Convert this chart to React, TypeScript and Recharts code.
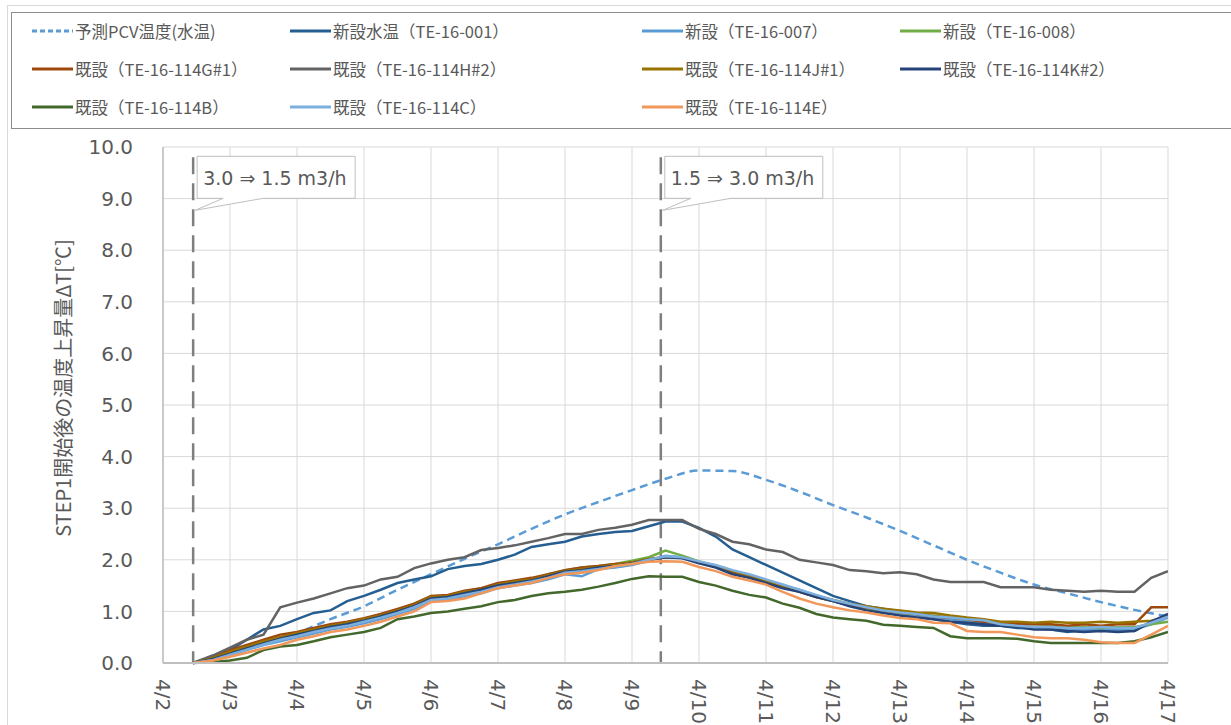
import React from 'react';
import { LineChart, Line, XAxis, YAxis, CartesianGrid, ReferenceLine } from 'recharts';

// days after 4/2 00:00
const days = [
  0.45, 0.75,
  1, 1.25, 1.5, 1.75,
  2, 2.25, 2.5, 2.75,
  3, 3.25, 3.5, 3.75,
  4, 4.25, 4.5, 4.75,
  5, 5.25, 5.5, 5.75,
  6, 6.25, 6.5, 6.75,
  7, 7.25, 7.5, 7.75,
  8, 8.25, 8.5, 8.75,
  9, 9.25, 9.5, 9.75,
  10, 10.25, 10.5, 10.75,
  11, 11.25, 11.5, 11.75,
  12, 12.25, 12.5, 12.75,
  13, 13.25, 13.5, 13.75,
  14, 14.25, 14.5, 14.75,
  15,
];

const predDays = [0.45, 1, 1.5, 2, 2.5, 3, 3.5, 4, 4.5, 5, 5.5, 6, 6.5, 7, 7.5, 8, 8.5, 9, 9.5, 10, 10.5, 11, 11.5, 12, 12.5, 13, 13.5, 14, 14.5, 15];
const predTemp = [0, 0.2, 0.38, 0.58, 0.85, 1.1, 1.42, 1.72, 2.02, 2.3, 2.6, 2.88, 3.12, 3.35, 3.57, 3.73, 3.72, 3.55, 3.32, 3.06, 2.82, 2.56, 2.28, 2.0, 1.75, 1.52, 1.35, 1.18, 1.03, 0.9];

const te001 = [
  0, 0.12,
  0.25, 0.45, 0.65, 0.72,
  0.85, 0.97, 1.02, 1.2,
  1.3, 1.42, 1.55, 1.62,
  1.68, 1.82, 1.88, 1.92,
  2.0, 2.1, 2.25, 2.3,
  2.35, 2.45, 2.5, 2.54,
  2.56, 2.65, 2.74, 2.74,
  2.62, 2.45, 2.2, 2.05,
  1.9, 1.75, 1.6, 1.45,
  1.3, 1.2, 1.1, 1.05,
  1.0, 0.92, 0.85, 0.8,
  0.75, 0.72, 0.72, 0.68,
  0.67, 0.65, 0.6, 0.65,
  0.62, 0.65, 0.62, 0.8,
  0.92,
];
const te007 = [
  0, 0.05,
  0.15, 0.25, 0.35, 0.42,
  0.5, 0.57, 0.65, 0.7,
  0.77, 0.85, 0.95, 1.05,
  1.2, 1.22, 1.3, 1.35,
  1.45, 1.5, 1.55, 1.62,
  1.72, 1.68, 1.82, 1.85,
  1.9, 1.98, 2.08, 2.05,
  1.95, 1.87, 1.78, 1.7,
  1.6, 1.5, 1.42, 1.3,
  1.22, 1.12, 1.05, 1.0,
  0.95, 0.9, 0.88, 0.85,
  0.8, 0.78, 0.75, 0.7,
  0.68, 0.68, 0.65, 0.65,
  0.65, 0.65, 0.65, 0.75,
  0.88,
];
const te008 = [
  0, 0.1,
  0.2, 0.3, 0.4, 0.5,
  0.57, 0.65, 0.72, 0.78,
  0.85, 0.92, 1.02, 1.15,
  1.28, 1.3, 1.38, 1.45,
  1.52, 1.58, 1.62, 1.72,
  1.8, 1.85, 1.88, 1.92,
  1.98, 2.05, 2.18, 2.08,
  1.97, 1.88, 1.77, 1.68,
  1.58, 1.48, 1.38, 1.28,
  1.2, 1.12, 1.05, 1.02,
  0.97, 0.95, 0.92, 0.88,
  0.85, 0.8, 0.75, 0.72,
  0.7, 0.72, 0.7, 0.7,
  0.68, 0.7, 0.7, 0.75,
  0.8,
];
const te114G1 = [
  0, 0.12,
  0.25, 0.35, 0.45, 0.55,
  0.6, 0.68, 0.75, 0.8,
  0.87, 0.95, 1.05, 1.15,
  1.3, 1.32, 1.4, 1.45,
  1.55, 1.6, 1.65, 1.72,
  1.8, 1.85, 1.88, 1.92,
  1.95, 2.0, 2.05, 2.05,
  1.95, 1.87, 1.75, 1.68,
  1.58, 1.48, 1.38, 1.28,
  1.2, 1.12, 1.07, 1.02,
  0.98, 0.95, 0.9, 0.88,
  0.85, 0.8, 0.77, 0.75,
  0.75, 0.75, 0.72, 0.75,
  0.72, 0.75, 0.75, 1.08,
  1.08,
];
const te114H2 = [
  0, 0.15,
  0.3, 0.45, 0.55, 1.08,
  1.17, 1.25, 1.35, 1.45,
  1.5, 1.62, 1.67, 1.84,
  1.93, 2.0, 2.05, 2.19,
  2.23, 2.28, 2.35, 2.42,
  2.5, 2.5, 2.58, 2.62,
  2.68, 2.77, 2.77, 2.77,
  2.6, 2.5, 2.35, 2.3,
  2.2, 2.15, 2.0, 1.95,
  1.9, 1.8, 1.78, 1.74,
  1.76, 1.72, 1.62, 1.57,
  1.57, 1.57, 1.47, 1.47,
  1.47, 1.42, 1.4, 1.38,
  1.4, 1.38, 1.38, 1.65,
  1.78,
];
const te114J1 = [
  0, 0.1,
  0.22, 0.32, 0.42, 0.5,
  0.58, 0.65, 0.72, 0.78,
  0.85, 0.92, 1.02, 1.12,
  1.28, 1.3, 1.38, 1.42,
  1.52, 1.58, 1.62, 1.7,
  1.78, 1.82, 1.86, 1.9,
  1.95, 2.02, 2.05, 2.05,
  1.95, 1.88, 1.78, 1.7,
  1.6, 1.5, 1.4, 1.3,
  1.22, 1.15, 1.1, 1.05,
  1.02, 0.98, 0.97, 0.92,
  0.88, 0.85, 0.8, 0.8,
  0.78, 0.8, 0.78, 0.78,
  0.8, 0.78, 0.8, 0.82,
  0.9,
];
const te114K2 = [
  0, 0.08,
  0.18, 0.28, 0.38, 0.47,
  0.55, 0.62, 0.7, 0.75,
  0.82, 0.9, 1.0, 1.1,
  1.25, 1.28, 1.35, 1.42,
  1.5, 1.55, 1.6, 1.68,
  1.77, 1.8, 1.85, 1.88,
  1.93, 2.0, 2.05, 2.03,
  1.93, 1.85, 1.72, 1.65,
  1.55, 1.45, 1.38, 1.28,
  1.2, 1.1, 1.02, 0.97,
  0.92, 0.88, 0.85, 0.8,
  0.78, 0.75, 0.72, 0.7,
  0.65, 0.65, 0.62, 0.6,
  0.62, 0.6, 0.62, 0.8,
  0.95,
];
const te114B = [
  0, 0.02,
  0.05, 0.1, 0.25, 0.32,
  0.35, 0.42, 0.5, 0.55,
  0.6, 0.68, 0.85, 0.9,
  0.97, 1.0, 1.05, 1.1,
  1.18, 1.22, 1.3, 1.35,
  1.38, 1.42, 1.48, 1.55,
  1.63, 1.68, 1.67, 1.67,
  1.57, 1.5, 1.4, 1.32,
  1.27, 1.15, 1.07, 0.95,
  0.88, 0.85, 0.82, 0.74,
  0.72, 0.7, 0.68, 0.52,
  0.48, 0.48, 0.48, 0.47,
  0.42, 0.39, 0.39, 0.39,
  0.39, 0.39, 0.42, 0.5,
  0.6,
];
const te114C = [
  0, 0.06,
  0.16, 0.26, 0.36, 0.45,
  0.52, 0.6, 0.67, 0.72,
  0.8, 0.88, 0.97, 1.08,
  1.22, 1.25, 1.32, 1.38,
  1.47, 1.52, 1.58, 1.65,
  1.75, 1.78, 1.82, 1.87,
  1.92, 2.0, 2.07, 2.05,
  1.97, 1.9, 1.8, 1.72,
  1.62, 1.52, 1.42, 1.32,
  1.22, 1.15, 1.08, 1.02,
  0.98, 0.95, 0.9, 0.88,
  0.85, 0.83, 0.75, 0.72,
  0.7, 0.7, 0.68, 0.68,
  0.7, 0.68, 0.68, 0.78,
  0.9,
];
const te114E = [
  0, 0.05,
  0.12, 0.2, 0.28, 0.35,
  0.45, 0.52, 0.6, 0.65,
  0.72, 0.8, 0.9, 1.0,
  1.18, 1.2, 1.25, 1.35,
  1.45, 1.5, 1.55, 1.65,
  1.72, 1.75, 1.8, 1.88,
  1.92, 1.96, 1.97, 1.96,
  1.86, 1.78, 1.67, 1.6,
  1.52, 1.38, 1.25, 1.15,
  1.08, 1.02, 0.98, 0.92,
  0.87, 0.85, 0.78, 0.77,
  0.62, 0.6, 0.6, 0.55,
  0.5, 0.48, 0.48, 0.45,
  0.4, 0.39, 0.39, 0.55,
  0.72,
];

const xTickLabels = ['4/2', '4/3', '4/4', '4/5', '4/6', '4/7', '4/8', '4/9', '4/10', '4/11', '4/12', '4/13', '4/14', '4/15', '4/16', '4/17'];
const xTicks = [0, 1, 2, 3, 4, 5, 6, 7, 8, 9, 10, 11, 12, 13, 14, 15];
const yTicks = [0, 1, 2, 3, 4, 5, 6, 7, 8, 9, 10];

// flow rate changes
const flowChangeDays = [0.45, 7.43];
const flowChangeLabels = ['3.0 ⇒ 1.5 m3/h', '1.5 ⇒ 3.0 m3/h'];

const yTitle = 'STEP1開始後の温度上昇量ΔT[℃]';

const series = [
  { key: 'pred', name: '予測PCV温度(水温)', color: '#5B9BD5', dashed: true },
  { key: 'te001', name: '新設水温（TE-16-001）', color: '#255E91', values: te001 },
  { key: 'te007', name: '新設（TE-16-007）', color: '#5B9BD5', values: te007 },
  { key: 'te008', name: '新設（TE-16-008）', color: '#70AD47', values: te008 },
  { key: 'g1', name: '既設（TE-16-114G#1）', color: '#9E480E', values: te114G1 },
  { key: 'h2', name: '既設（TE-16-114H#2）', color: '#636363', values: te114H2 },
  { key: 'j1', name: '既設（TE-16-114J#1）', color: '#997300', values: te114J1 },
  { key: 'k2', name: '既設（TE-16-114K#2）', color: '#264478', values: te114K2 },
  { key: 'b', name: '既設（TE-16-114B）', color: '#43682B', values: te114B },
  { key: 'c', name: '既設（TE-16-114C）', color: '#7CAFDD', values: te114C },
  { key: 'e', name: '既設（TE-16-114E）', color: '#F1975A', values: te114E },
];

const data = days.map((d, i) => {
  const row: { [k: string]: number } = { day: d };
  series.forEach(s => {
    if (s.values) row[s.key] = s.values[i];
  });
  return row;
});
const predData = predDays.map((d, i) => ({ day: d, pred: predTemp[i] }));

const textColor = '#595959';
const tickFont = 'DejaVu Sans';
const jpFont = '"Noto Sans CJK JP", sans-serif';

const XTick = (props: any) => {
  const { x, y, payload } = props;
  return (
    <text x={x} y={y} dy="0.35em" transform={`rotate(90, ${x}, ${y})`} textAnchor="start"
      fontSize={20} fontFamily={tickFont} fill={textColor}>
      {xTickLabels[payload.value]}
    </text>
  );
};

const YTitle = (props: any) => {
  const { viewBox } = props;
  const cx = viewBox.x + 62;
  const cy = viewBox.y + viewBox.height / 2 - 17;
  return (
    <text x={cx} y={cy} transform={`rotate(-90, ${cx}, ${cy})`} textAnchor="middle" dominantBaseline="central"
      fontSize={20} fontFamily={jpFont} fill={textColor}>
      {yTitle}
    </text>
  );
};

const Callout = (props: any) => {
  const { viewBox, text } = props;
  const x = viewBox.x;
  const top = viewBox.y - 1;
  const left = x + 4;
  const w = 158;
  const h = 42;
  const d = `M${left},${top} H${left + w} V${top + h} H${left + 66} L${x + 2},${top + h + 12} L${left + 26},${top + h} H${left} Z`;
  return (
    <g>
      <path d={d} fill="#FFFFFF" stroke="#BFBFBF" strokeWidth={1} />
      <text x={left + 6} y={top + h / 2 + 1} dominantBaseline="central" fontSize={19} fontFamily={tickFont} fill={textColor}>
        {text}
      </text>
    </g>
  );
};

const legendCols = [21, 279, 631, 889];

const Legend = () => (
  <div style={{ position: 'absolute', left: 11, top: 12, width: 1240, height: 117, border: '1px solid #8C8C8C', boxSizing: 'border-box', background: '#fff' }}>
    {series.map((s, i) => {
      const col = i % 4;
      const row = Math.floor(i / 4);
      return (
        <div key={s.key} style={{ position: 'absolute', left: legendCols[col] - 1, top: 18 + row * 38 - 12, height: 24, display: 'flex', alignItems: 'center', whiteSpace: 'nowrap' }}>
          <svg width={41} height={6} style={{ display: 'block' }}>
            <line x1={0} y1={3} x2={41} y2={3} stroke={s.color} strokeWidth={3} strokeDasharray={s.dashed ? '5 3' : undefined} />
          </svg>
          <span style={{ marginLeft: 2, fontSize: 16.5, fontFamily: jpFont, color: textColor }}>{s.name}</span>
        </div>
      );
    })}
  </div>
);

export default function App() {
  return (
    <div style={{ position: 'absolute', left: 0, top: 0, width: 1231, height: 725, overflow: 'hidden', background: '#fff' }}>
      <div style={{ position: 'absolute', left: 7, top: 5, width: 1300, height: 900, border: '1px solid #D9D9D9' }} />
      <div style={{ position: 'absolute', left: 0, top: 0 }}>
        <LineChart width={1231} height={725} data={data} margin={{ top: 147, right: 63, bottom: 0, left: 0 }}>
          <CartesianGrid stroke="#D9D9D9" strokeWidth={1} />
          <XAxis dataKey="day" type="number" domain={[0, 15]} ticks={xTicks} interval={0} height={62}
            tick={<XTick />} tickLine={false} tickSize={0} tickMargin={16}
            axisLine={{ stroke: '#BFBFBF', strokeWidth: 2 }} allowDataOverflow />
          <YAxis type="number" domain={[0, 10]} ticks={yTicks} interval={0} width={163}
            tickFormatter={(v: number) => v.toFixed(1)} tickLine={false} tickSize={0} tickMargin={30}
            tick={{ fontSize: 20, fontFamily: tickFont, fill: textColor }}
            axisLine={{ stroke: '#BFBFBF', strokeWidth: 1.5 }}
            label={<YTitle />} />
          {flowChangeDays.map((d, i) => (
            <ReferenceLine key={'flow' + i} segment={[{ x: d, y: 9.8 }, { x: d, y: 0 }]}
              stroke="#7F7F7F" strokeWidth={2.5} strokeDasharray="17 9"
              label={<Callout text={flowChangeLabels[i]} />} />
          ))}
          <Line data={predData} dataKey="pred" name={series[0].name} type="monotone" stroke={series[0].color}
            strokeWidth={2.5} strokeDasharray="8 5" dot={false} isAnimationActive={false} />
          {series.slice(1).map(s => (
            <Line key={s.key} dataKey={s.key} name={s.name} type="linear" stroke={s.color}
              strokeWidth={2.5} dot={false} isAnimationActive={false} />
          ))}
        </LineChart>
      </div>
      <Legend />
    </div>
  );
}
